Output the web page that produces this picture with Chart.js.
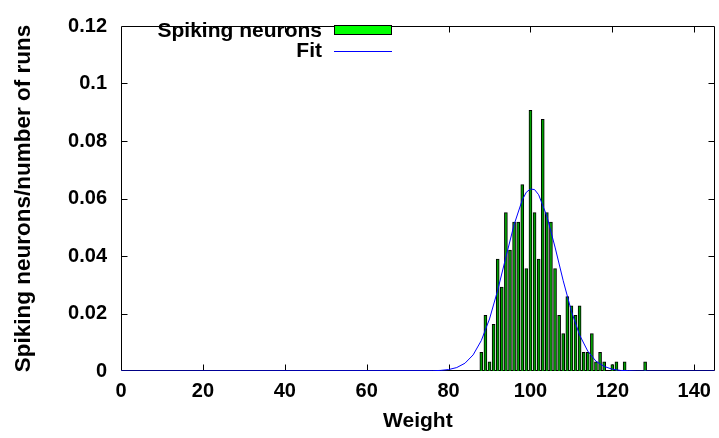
<!DOCTYPE html>
<html>
<head>
<meta charset="utf-8">
<script src="https://cdn.jsdelivr.net/npm/chart.js@4/dist/chart.umd.min.js"></script>
<style>
html,body{margin:0;padding:0;background:#fff;}
#wrap{width:719px;height:438px;position:relative;}
</style>
</head>
<body>
<div id="wrap"><canvas id="c" width="719" height="438"></canvas></div>
<script>
// ---- data ----
const weights = [88,89,90,91,92,93,94,95,96,97,98,99,100,101,102,103,104,105,106,107,108,109,110,111,112,113,114,115,116,117,118,120,121,123,128];
const spikeFraction = [0.0065,0.0194,0.0032,0.0162,0.0389,0.0292,0.0551,0.0421,0.0518,0.0518,0.0648,0.0356,0.0907,0.0551,0.0389,0.0875,0.0551,0.0518,0.0356,0.0194,0.0130,0.0259,0.0227,0.0194,0.0227,0.0065,0.0065,0.0130,0.0032,0.0065,0.0032,0.0022,0.0032,0.0032,0.0032];
const fitX = [0,76,78,80,82,84,86,88,90,92,94,96,98,99,100,101,102,104,106,108,110,112,114,116,118,120,122,124,126,145];
const fitY = [0,0.0001,0.0002,0.0005,0.0012,0.0027,0.0056,0.0106,0.0181,0.0281,0.0396,0.0509,0.0595,0.0622,0.0633,0.0631,0.0613,0.0539,0.0431,0.0314,0.0208,0.0125,0.0069,0.0034,0.0016,0.0006,0.0002,0.0001,0,0];
const xTickLabels = ['0','20','40','60','80','100','120','140'];
const yTickLabels = ['0','0.02','0.04','0.06','0.08','0.1','0.12'];
const seriesNames = ['Spiking neurons','Fit'];

const FONT = '"Liberation Sans", Arial, Helvetica, sans-serif';

const framePlugin = {
  id: 'frame',
  beforeDatasetsDraw(chart) {
    const {ctx, chartArea: a, scales} = chart;
    ctx.save();
    ctx.strokeStyle = '#000';
    ctx.lineWidth = 1;
    const L = Math.round(a.left) + 0.5, R = Math.round(a.right) - 0.5;
    const T = Math.round(a.top) + 0.5, B = Math.round(a.bottom) - 0.5;
    ctx.beginPath();
    ctx.rect(L, T, R - L, B - T);
    ctx.stroke();
    const len = 6;
    ctx.beginPath();
    scales.x.ticks.forEach(t => {
      const px = Math.round(scales.x.getPixelForValue(t.value)) + 0.5;
      if (px <= L + 1 || px >= R - 1) return;
      ctx.moveTo(px, B); ctx.lineTo(px, B - len);
      ctx.moveTo(px, T); ctx.lineTo(px, T + len);
    });
    scales.y.ticks.forEach(t => {
      const py = Math.round(scales.y.getPixelForValue(t.value)) + 0.5;
      if (py <= T + 1 || py >= B - 1) return;
      ctx.moveTo(L, py); ctx.lineTo(L + len, py);
      ctx.moveTo(R, py); ctx.lineTo(R - len, py);
    });
    ctx.stroke();
    ctx.restore();
  }
};

const legendPlugin = {
  id: 'gpLegend',
  afterDatasetsDraw(chart) {
    const ctx = chart.ctx;
    ctx.save();
    ctx.font = 'bold 21px ' + FONT;
    ctx.fillStyle = '#000';
    ctx.textAlign = 'right';
    ctx.textBaseline = 'middle';
    ctx.fillText(seriesNames[0], 322, 31);
    ctx.fillText(seriesNames[1], 322, 51);
    ctx.fillStyle = '#00ff00';
    ctx.fillRect(334, 25, 58, 10);
    ctx.strokeStyle = '#000';
    ctx.lineWidth = 1;
    ctx.strokeRect(334.5, 25.5, 57, 9);
    ctx.strokeStyle = '#0000ff';
    ctx.beginPath();
    ctx.moveTo(334, 51.5); ctx.lineTo(392, 51.5);
    ctx.stroke();
    ctx.restore();
  }
};

new Chart(document.getElementById('c'), {
  data: {
    datasets: [
      {
        type: 'line',
        label: seriesNames[1],
        data: fitX.map((x, i) => ({x: x, y: fitY[i]})),
        borderColor: '#0000ff',
        borderWidth: 1,
        pointRadius: 0,
        tension: 0,
        fill: false,
        order: 0
      },
      {
        type: 'bar',
        label: seriesNames[0],
        data: weights.map((x, i) => ({x: x, y: spikeFraction[i]})),
        backgroundColor: '#00a000',
        borderColor: '#000',
        borderWidth: {left: 1, right: 1, top: 1, bottom: 0},
        borderSkipped: false,
        barThickness: 3,
        order: 1
      }
    ]
  },
  options: {
    responsive: false,
    animation: false,
    devicePixelRatio: 1,
    layout: {padding: {left: 0, right: 2, top: 14, bottom: 0}},
    plugins: {legend: {display: false}, tooltip: {enabled: false}},
    scales: {
      x: {
        type: 'linear',
        offset: false,
        min: 0, max: 145,
        grid: {display: false, drawTicks: false, offset: false},
        border: {display: false},
        ticks: {
          stepSize: 20, includeBounds: false, padding: 8,
          color: '#000', font: {family: FONT, size: 20, weight: 'bold'},
          callback: (v) => xTickLabels[Math.round(v / 20)] ?? ''
        },
        title: {display: true, text: 'Weight', color: '#000', padding: {top: 0, bottom: 4},
          font: {family: FONT, size: 21, weight: 'bold'}},
        afterFit: (s) => { s.height = 67; }
      },
      y: {
        type: 'linear',
        min: 0, max: 0.12,
        grid: {display: false, drawTicks: false},
        border: {display: false},
        ticks: {
          stepSize: 0.02, includeBounds: false, padding: 14,
          color: '#000', font: {family: FONT, size: 20, weight: 'bold'},
          callback: (v) => yTickLabels[Math.round(v / 0.02)] ?? ''
        },
        title: {display: true, text: 'Spiking neurons/number of runs', color: '#000', padding: {top: 10, bottom: 0},
          font: {family: FONT, size: 22.5, weight: 'bold'}},
        afterFit: (s) => { s.width = 121; }
      }
    }
  },
  plugins: [framePlugin, legendPlugin]
});
</script>
</body>
</html>
